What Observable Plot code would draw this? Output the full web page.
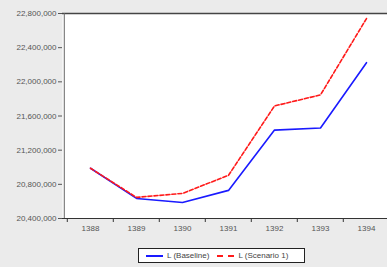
<!DOCTYPE html>
<html>
<head>
<meta charset="utf-8">
<script src="https://cdn.jsdelivr.net/npm/d3@7"></script>
<script src="https://cdn.jsdelivr.net/npm/@observablehq/plot@0.6"></script>
<style>
  html, body { margin: 0; padding: 0; background: #ebebeb; overflow: hidden; }
  #wrap { position: relative; width: 387px; height: 267px; }
  #legend {
    position: absolute; left: 138px; top: 248px; width: 167px; height: 15px;
    background: #fff; border: 1px solid #222; box-sizing: border-box;
    font: 8px "Liberation Sans", Arial, sans-serif; color: #444;
    display: flex; align-items: center; white-space: nowrap;
  }
  .sw { display: inline-block; width: 17px; height: 0; margin: 0 4px 0 7px; }
  .sw.b { border-top: 2px solid #1a1aff; }
  .sw.r { border-top: 2px dashed #ff1a1a; }
</style>
</head>
<body>
<div id="wrap"><div id="chart"></div>
<div id="legend"><span class="sw b"></span><span>L (Baseline)</span><span class="sw r" style="margin-left:8px"></span><span>L (Scenario 1)</span></div>
</div>
<script>
const years = ["1388","1389","1390","1391","1392","1393","1394"];
const baseline = [20988000, 20635000, 20588000, 20729000, 21435000, 21459000, 22224000];
const scenario1 = [20988000, 20647000, 20694000, 20906000, 21718000, 21847000, 22741000];
const yTicks = [20400000, 20800000, 21200000, 21600000, 22000000, 22400000, 22800000];
const seriesNames = ["L (Baseline)", "L (Scenario 1)"];

const data = [];
years.forEach((y, i) => {
  data.push({year: y, value: baseline[i], series: seriesNames[0]});
  data.push({year: y, value: scenario1[i], series: seriesNames[1]});
});

const bw = (390 - 65) / years.length;
const fmt = d3.format(",d");

const chart = Plot.plot({
  width: 387,
  height: 246,
  marginLeft: 62,
  marginRight: 0,
  marginTop: 13,
  marginBottom: 28,
  style: {background: "transparent", fontFamily: "'Liberation Sans', Arial, sans-serif", fontSize: "8px", color: "#555"},
  x: {type: "band", domain: years, range: [65, 390], padding: 0, axis: null, label: null},
  y: {domain: [20400000, 22800000], axis: null, label: null},
  marks: [
    Plot.frame({fill: "white", stroke: "none"}),
    Plot.axisY({ticks: yTicks, tickFormat: fmt, tickSize: 4, tickPadding: 2, stroke: "#555", fill: "#555", label: null}),
    Plot.axisX({tickSize: 0, tickPadding: 7, fill: "#555", label: null}),
    Plot.axisX({tickSize: 4, tickFormat: () => "", dx: -bw / 2, stroke: "#333", label: null}),
    Plot.ruleY([yTicks[yTicks.length - 1]], {stroke: "#444", strokeWidth: 1.5}),
    Plot.ruleY([yTicks[0]], {stroke: "#333", strokeWidth: 1.2}),
    Plot.ruleX([years[0]], {dx: -bw / 2 - 3, stroke: "#666", strokeWidth: 1}),
    Plot.line(data.filter(d => d.series === seriesNames[0]), {x: "year", y: "value", stroke: "#1a1aff", strokeWidth: 1.6}),
    Plot.line(data.filter(d => d.series === seriesNames[1]), {x: "year", y: "value", stroke: "#ff1a1a", strokeWidth: 1.6, strokeDasharray: "4,2"})
  ]
});
document.getElementById("chart").appendChild(chart);
</script>
</body>
</html>
